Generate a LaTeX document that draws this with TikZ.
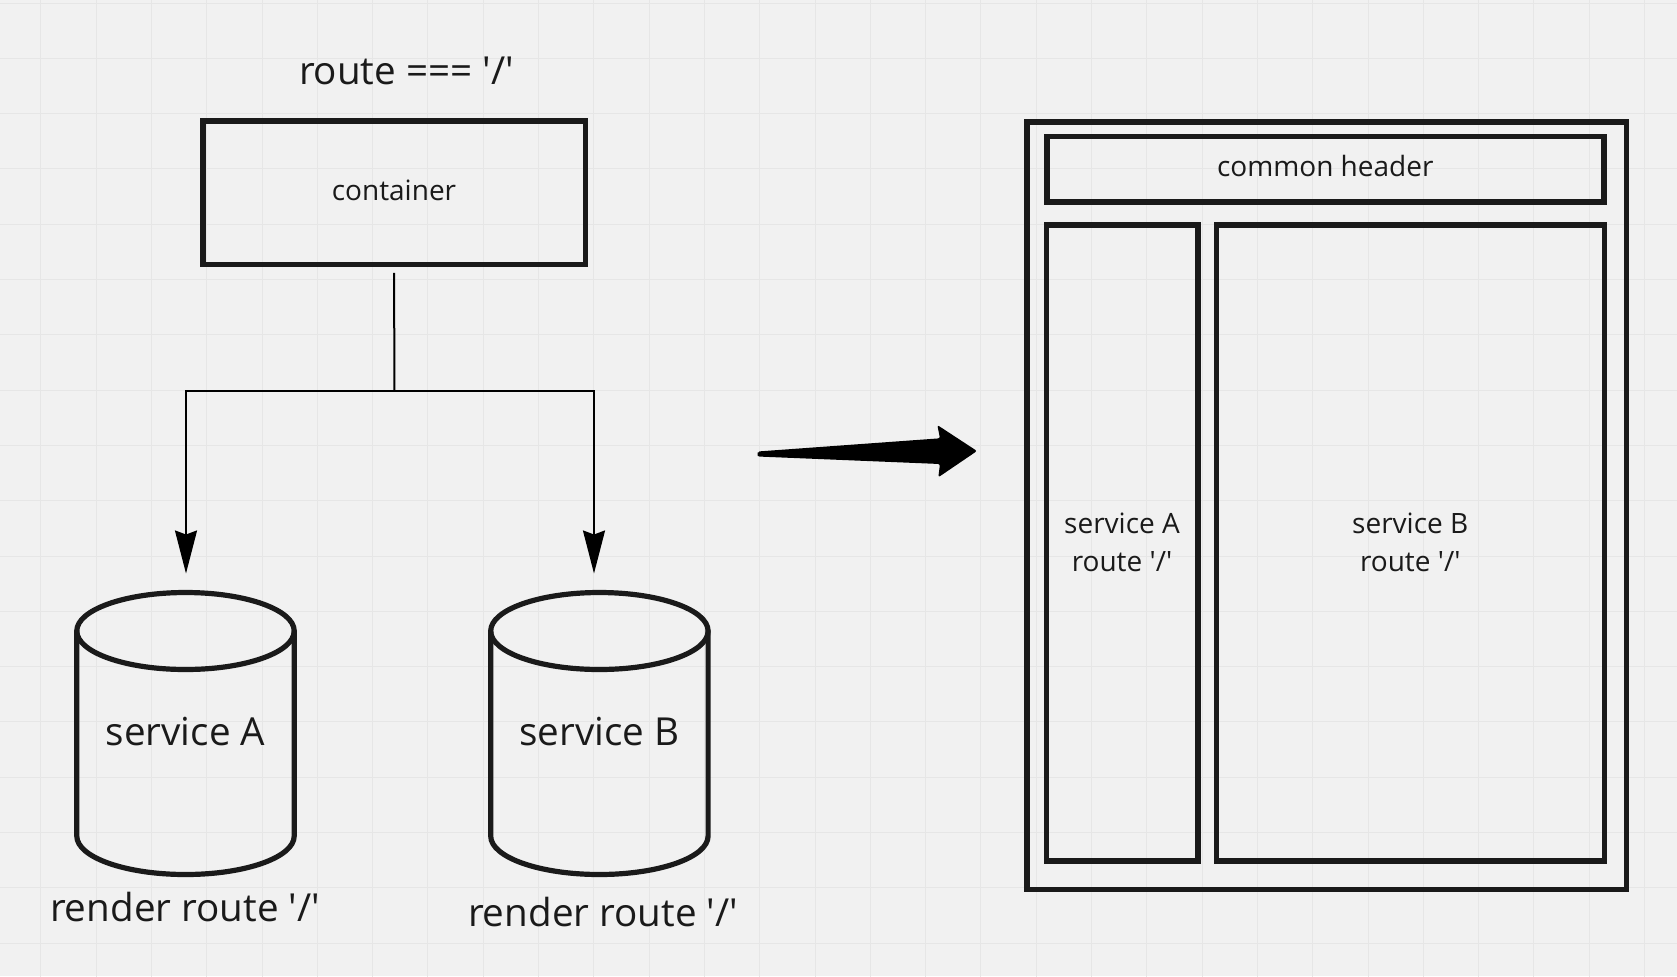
\documentclass[tikz,border=0pt]{standalone}
\usepackage{fontspec}
\setmainfont{Open Sans}
\usetikzlibrary{arrows.meta, positioning}
\definecolor{ink}{HTML}{1A1A1A}
\definecolor{paper}{HTML}{F1F1F1}
\definecolor{gridgray}{HTML}{E6E6E6}
\newcommand{\rootpath}{\textquotesingle/\textquotesingle}
\tikzset{
box/.style={draw=ink, line width=2.75pt, inner sep=0pt, text=ink}, % thick frames
bigtext/.style={text=ink, inner sep=0pt, font=\fontsize{19.3}{24}\selectfont}, % big labels
smalltext/.style={font=\fontsize{14}{19}\selectfont, align=center}, % text in the frames
link/.style={draw=black, line width=1pt}, % thin connectors
cylline/.style={draw=ink, line width=2.6pt, line cap=round, line join=round}, % the two services
tip/.style={-{Stealth[length=21.5pt, width=11pt, inset=2pt]}}, % long narrow heads
}

\begin{document}
\begin{tikzpicture}[x=0.5pt, y=0.5pt]
    \useasboundingbox (0,0) rectangle (1677,-976);
    \fill[paper] (0,0) rectangle (1677,-976);
    \begin{scope}
    \clip (0,0) rectangle (1677,-976);
    \draw[gridgray, line width=0.5pt, step=27.65pt, xshift=20.4pt, yshift=-1.5pt] (-60,60) grid (1700,-1000);
    \end{scope}

    % left side: container and the services
    \node[bigtext] (routeTxt) at (406.4,-70.6) {route === \rootpath};
    \node[box, smalltext, text depth=2pt, minimum width=191.25pt, minimum height=71.75pt] (container) at (394,-192.5) {container};
    \coordinate (split) at (394.5,-391);
    \coordinate (topA) at (186,-573.5);
    \coordinate (topB) at (594,-573.5);
    \draw[link, shorten <=2.9pt] (container.south) -- (split);
    \draw[link, tip] (split) -| (topA);
    \draw[link, tip] (split) -| (topB);

    \draw[cylline] (76.8,-631) -- (76.8,-836) arc[start angle=180, end angle=360, x radius=54.35pt, y radius=19.25pt] -- (294.2,-631);
    \draw[cylline] (185.5,-631) ellipse [x radius=54.35pt, y radius=19.25pt];
    \draw[cylline] (490.7,-631) -- (490.7,-836) arc[start angle=180, end angle=360, x radius=54.35pt, y radius=19.25pt] -- (708.1,-631);
    \draw[cylline] (599.4,-631) ellipse [x radius=54.35pt, y radius=19.25pt];
    \node[bigtext] (svcA) at (185.5,-731.5) {service A};
    \node[bigtext] (svcB) at (599.4,-731.5) {service B};
    \node[bigtext] (renderA) at (185,-907) {render route \rootpath};
    \node[bigtext] (renderB) at (603,-912.3) {render route \rootpath};

    % the big arrow
    \coordinate (arrowTail) at (757.5,-454);
    \coordinate (arrowTip) at (977,-451);
    \fill[black, rounded corners=1pt] (arrowTail) -- (757.5,-451.5) -- (940,-438.3) -- (937.3,-425)
        -- (arrowTip) -- (938.3,-477.3) -- (940,-464) -- (757.5,-456.5) -- cycle;

    % right side: the page layout
    \node[box, minimum width=299.75pt, minimum height=383.75pt] (layout) at (1326.5,-505.5) {};
    \node[box, smalltext, text depth=3pt, minimum width=278.5pt, minimum height=32.75pt] (header) at (1325.25,-169) {common header};
    \node[box, smalltext, minimum width=75.75pt, minimum height=318pt] (pageA) at (1122,-542.75) {service A\\route \rootpath};
    \node[box, smalltext, minimum width=194pt, minimum height=318pt] (pageB) at (1410.25,-542.75) {service B\\route \rootpath};
\end{tikzpicture}
\end{document}
